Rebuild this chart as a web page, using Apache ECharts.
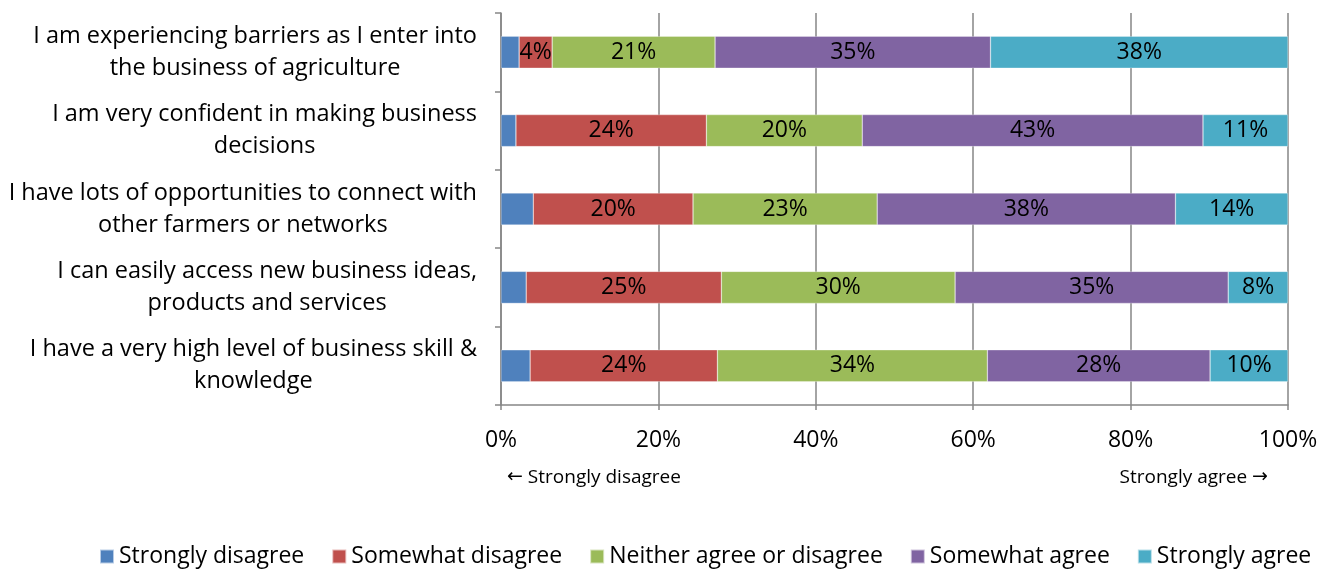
<!DOCTYPE html>
<html>
<head>
<meta charset="utf-8">
<script src="https://cdn.jsdelivr.net/npm/echarts@6/dist/echarts.min.js"></script>
<style>
  html, body { margin: 0; padding: 0; background: #fff; }
  #chart { width: 1335px; height: 570px; }
</style>
</head>
<body>
<div id="chart"></div>
<script>
// Survey statements, top to bottom
const statements = [
  'I am experiencing barriers as I enter into\nthe business of agriculture',
  'I am very confident in making business\ndecisions',
  'I have lots of opportunities to connect with\nother farmers or networks',
  'I can easily access new business ideas,\nproducts and services',
  'I have a very high level of business skill &\nknowledge'
];

// Response shares (%) per statement
const stronglyDisagree = [2.3, 1.9, 4.1, 3.2, 3.7];
const somewhatDisagree = [4.2, 24.2, 20.3, 24.8, 23.8];
const neither = [20.7, 19.8, 23.4, 29.7, 34.3];
const somewhatAgree = [35.0, 43.3, 37.9, 34.7, 28.3];
const stronglyAgree = [37.8, 10.8, 14.3, 7.6, 9.9];

const seriesNames = ['Strongly disagree', 'Somewhat disagree', 'Neither agree or disagree', 'Somewhat agree', 'Strongly agree'];
const seriesColors = ['#4F81BD', '#C0504D', '#9BBB59', '#8064A2', '#4BACC6'];
const seriesData = [stronglyDisagree, somewhatDisagree, neither, somewhatAgree, stronglyAgree];
const showLabels = [false, true, true, true, true];

const xTicks = [0, 20, 40, 60, 80, 100];

const FONT = '"Open Sans", sans-serif';
const ARROW_FONT = '"DejaVu Sans", sans-serif';

const chart = echarts.init(document.getElementById('chart'), null, { renderer: 'canvas' });

chart.setOption({
  animation: false,
  backgroundColor: '#fff',
  textStyle: { fontFamily: FONT },
  grid: { left: 501, right: 47, top: 13, bottom: 165, containLabel: false },
  xAxis: {
    type: 'value',
    min: xTicks[0],
    max: xTicks[xTicks.length - 1],
    interval: 20,
    axisLine: { show: true, lineStyle: { color: '#868686', width: 1.5 } },
    axisTick: { show: true, length: 5, lineStyle: { color: '#868686', width: 1.5 } },
    splitLine: { show: true, lineStyle: { color: '#868686', width: 1.5 } },
    axisLabel: {
      margin: 24,
      fontSize: 23,
      color: '#000',
      fontFamily: FONT,
      formatter: v => v + '%'
    }
  },
  yAxis: {
    type: 'category',
    inverse: true,
    data: statements,
    axisLine: { show: true, lineStyle: { color: '#868686', width: 1.5 } },
    axisTick: { show: true, length: 6, lineStyle: { color: '#868686', width: 1.5 } },
    axisLabel: {
      margin: 24,
      align: 'right',
      color: '#000',
      fontSize: 23.5,
      fontFamily: FONT,
      lineHeight: 32,
      formatter: v => v.split('\n').map(l => '{c|' + l + '}').join('\n'),
      rich: { c: { align: 'center', fontSize: 23.5, lineHeight: 32, color: '#000', fontFamily: FONT } }
    }
  },
  legend: {
    top: 540,
    left: 94,
    itemWidth: 14,
    itemHeight: 14,
    itemGap: 27,
    icon: 'rect',
    textStyle: { fontSize: 23, color: '#000', fontFamily: FONT },
    data: seriesNames
  },
  series: seriesNames.map((name, i) => ({
    name: name,
    type: 'bar',
    stack: 'total',
    barWidth: 32,
    data: seriesData[i],
    itemStyle: { color: seriesColors[i], borderColor: 'rgba(255,255,255,0.6)', borderWidth: 0.5 },
    label: {
      show: showLabels[i],
      position: 'inside',
      color: '#000',
      fontSize: 23,
      fontFamily: FONT,
      formatter: p => Math.round(p.value) + '%'
    }
  })),
  graphic: [
    {
      type: 'text', left: 507, top: 468,
      style: {
        text: '{a|←} Strongly disagree',
        fontSize: 19, fill: '#000', fontFamily: FONT,
        rich: { a: { fontFamily: ARROW_FONT, fontSize: 19, fill: '#000' } }
      }
    },
    {
      type: 'text', right: 67, top: 468,
      style: {
        text: 'Strongly agree {a|→}',
        fontSize: 19, fill: '#000', fontFamily: FONT,
        rich: { a: { fontFamily: ARROW_FONT, fontSize: 19, fill: '#000' } }
      }
    }
  ]
});
</script>
</body>
</html>
